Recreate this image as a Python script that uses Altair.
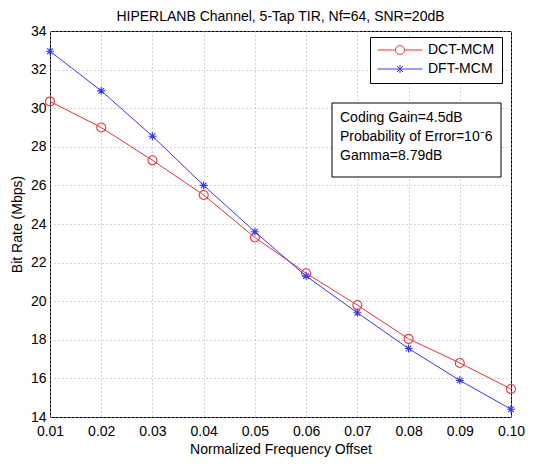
import altair as alt
import pandas as pd

# ---- data ----
offsets = [0.01, 0.02, 0.03, 0.04, 0.05, 0.06, 0.07, 0.08, 0.09, 0.10]
dct_mcm = [30.35, 29.0, 27.3, 25.5, 23.3, 21.45, 19.8, 18.05, 16.8, 15.45]
dft_mcm = [32.95, 30.9, 28.55, 26.0, 23.6, 21.3, 19.4, 17.55, 15.9, 14.4]
series_names = ["DCT-MCM", "DFT-MCM"]
series_colors = ["#e6383c", "#3838e6"]
y_ticks = [14, 16, 18, 20, 22, 24, 26, 28, 30, 32, 34]
note_lines = ["Coding Gain=4.5dB", "Probability of Error=10\u207b6", "Gamma=8.79dB"]
title_text = "HIPERLANB Channel, 5-Tap TIR, Nf=64, SNR=20dB"

FONT = "Liberation Sans"

star_path = "M-1,0L1,0M0,-1L0,1M-0.7,-0.7L0.7,0.7M-0.7,0.7L0.7,-0.7"
legend_circle = "M-1,0L-0.2,0A0.2,0.2 0 1,1 0.2,0A0.2,0.2 0 1,1 -0.2,0M0.2,0L1,0"
legend_star = ("M-1,0L1,0M0,-0.18L0,0.18M-0.13,-0.13L0.13,0.13"
               "M-0.13,0.13L0.13,-0.13")
marker_shapes = ["circle", star_path]
marker_sizes = [81, 64]

df = pd.DataFrame({
    "offset": offsets + offsets,
    "rate": dct_mcm + dft_mcm,
    "series": [series_names[0]] * len(offsets) + [series_names[1]] * len(offsets),
})

x = alt.X(
    "offset:Q",
    scale=alt.Scale(domain=[0.01, 0.10], nice=False, zero=False),
    axis=alt.Axis(values=offsets, format=".2f", title="Normalized Frequency Offset",
                  labelFlush=False),
)
y = alt.Y(
    "rate:Q",
    scale=alt.Scale(domain=[14, 34], nice=False, zero=False),
    axis=alt.Axis(values=y_ticks, title="Bit Rate (Mbps)", labelFlush=False),
)

base = alt.Chart(df)
layers = []
for name, col, shp, sz in zip(series_names, series_colors, marker_shapes, marker_sizes):
    sub = base.transform_filter(alt.datum.series == name)
    layers.append(sub.mark_line(strokeWidth=1, color=col).encode(x=x, y=y))
    layers.append(sub.mark_point(shape=shp, size=sz, filled=False, strokeWidth=1.1,
                                 color=col, opacity=1).encode(x=x, y=y))

leg = dict(orient="none", legendX=320, legendY=6,
           strokeColor="black", fillColor="white", padding=7,
           cornerRadius=0, symbolSize=2025, symbolStrokeWidth=1,
           clipHeight=12, rowPadding=5, labelOffset=5,
           labelFont=FONT, labelFontSize=14, labelColor="black",
           title=None)

legend_layer = base.transform_filter("false").mark_point(filled=False, opacity=1).encode(
    x=x, y=y,
    color=alt.Color("series:N", scale=alt.Scale(domain=series_names, range=series_colors),
                    title=None, legend=alt.Legend(**leg)),
    shape=alt.Shape("series:N",
                    scale=alt.Scale(domain=series_names, range=[legend_circle, legend_star]),
                    title=None, legend=alt.Legend(**leg)),
)
layers.append(legend_layer)

note_box = alt.Chart(pd.DataFrame({"k": [0]})).mark_rect(
    fill="white", stroke="black", strokeWidth=1
).encode(x=alt.value(282), x2=alt.value(451), y=alt.value(72), y2=alt.value(146))

note_text = alt.Chart(pd.DataFrame({"k": [0]})).mark_text(
    text=note_lines, align="left", baseline="alphabetic", lineHeight=19,
    font=FONT, fontSize=14, color="black"
).encode(x=alt.value(290), y=alt.value(91))
layers += [note_box, note_text]

chart = alt.layer(*layers).properties(
    width=461, height=386,
    title=alt.TitleParams(title_text, font=FONT, fontSize=14, fontWeight="normal",
                          color="black", anchor="middle", offset=0),
    autosize=alt.AutoSizeParams(type="none"),
    padding={"left": 42, "top": 23, "right": 14, "bottom": 44},
).configure_view(stroke="black", strokeWidth=1).configure_axis(
    grid=True, gridColor="#aaaaaa", gridDash=[1, 3], gridWidth=1,
    domain=False, ticks=False, labelFont=FONT, labelFontSize=14, labelColor="black",
    titleFont=FONT, titleFontSize=14, titleFontWeight="normal", titleColor="black",
).configure_axisX(labelPadding=7, titlePadding=4).configure_axisY(labelPadding=4, titlePadding=6)

chart.save("out.html", embed_options={"renderer": "svg", "actions": False})
